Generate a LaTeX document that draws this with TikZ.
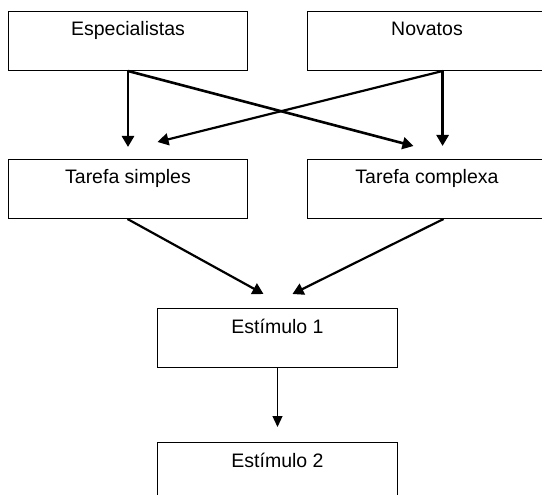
\documentclass[tikz,border=0pt]{standalone}
\usepackage{fontspec}
\setmainfont{Liberation Sans}
\usetikzlibrary{arrows.meta,calc}
\begin{document}
\begin{tikzpicture}[x=1pt,y=-1pt,
  box/.style={draw, line width=1pt, minimum width=239pt, minimum height=59pt, anchor=north west, inner sep=0pt},
  lbl/.style={anchor=base, font=\fontsize{19.5}{23}\selectfont, inner sep=0pt},
  toparrow/.style={line width=2.6pt, -{Triangle[length=11pt,width=12pt]}},
  midarrow/.style={line width=2.2pt, -{Triangle[length=11pt,width=12pt]}},
  lowarrow/.style={line width=1.3pt, -{Triangle[length=11pt,width=10pt]}}]
\useasboundingbox (0,0) rectangle (542,495);
\clip (0,0) rectangle (542,495);
% boxes
\node[box] (esp) at (8,11) {};
\node[box] (nov) at (307,11) {};
\node[box] (ts) at (8,159) {};
\node[box] (tc) at (307,159) {};
\node[box, minimum width=240pt] (e1) at (157,308) {};
\node[box, minimum width=240pt] (e2) at (157,442) {};
% labels
\node[lbl] (espt) at ($(esp.north)+(0,25)$) {Especialistas};
\node[lbl] (novt) at ($(nov.north)+(0,25)$) {Novatos};
\node[lbl] (tst) at ($(ts.north)+(0,25)$) {Tarefa simples};
\node[lbl] (tct) at ($(tc.north)+(0,25)$) {Tarefa complexa};
\node[lbl] (e1t) at ($(e1.north)+(0,25)$) {Estímulo 1};
\node[lbl] (e2t) at ($(e2.north)+(0,25)$) {Estímulo 2};
% connector points
\coordinate (novout) at ($(nov.south west)!0.565!(nov.south east)$);
\coordinate (tcout) at ($(tc.south west)!0.569!(tc.south east)$);
\coordinate (tsout) at ($(ts.south)+(-0.5,0)$);
\coordinate (tipA) at ($(ts.north)+(29.5,-17)$);
\coordinate (tipB) at ($(tc.north)+(-13.5,-13)$);
\coordinate (tipC) at ($(e1.north)+(-14,-14)$);
\coordinate (tipD) at ($(e1.north)+(15,-14)$);
% arrows
\draw[toparrow, shorten >=12pt] (esp.south) -- (esp.south |- ts.north);
\draw[toparrow] (esp.south) -- (tipB);
\draw[toparrow, shorten >=13pt] (novout) -- (novout |- tc.north);
\draw[midarrow] (novout) -- (tipA);
\draw[midarrow] (tsout) -- (tipC);
\draw[midarrow] (tcout) -- (tipD);
\draw[lowarrow, shorten >=15pt] (e1.south) -- (e2.north);
\end{tikzpicture}
\end{document}
